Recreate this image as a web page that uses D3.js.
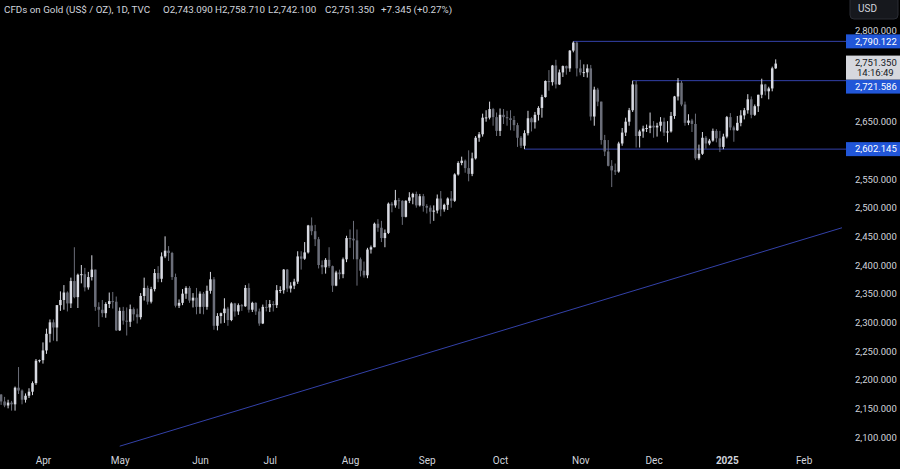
<!DOCTYPE html>
<html><head><meta charset="utf-8">
<script src="https://cdn.jsdelivr.net/npm/d3@7"></script>
<style>html,body{margin:0;padding:0;background:#000;} svg{display:block;}</style>
</head><body>
<svg id="chart" width="900" height="469"></svg>
<script>
const dates = [
"2024-03-14","2024-03-15","2024-03-18","2024-03-19","2024-03-20","2024-03-21","2024-03-22","2024-03-25","2024-03-26","2024-03-27","2024-03-28","2024-03-29",
"2024-04-01","2024-04-02","2024-04-03","2024-04-04","2024-04-05","2024-04-08","2024-04-09","2024-04-10","2024-04-11","2024-04-12","2024-04-15","2024-04-16","2024-04-17","2024-04-18","2024-04-19","2024-04-22","2024-04-23","2024-04-24","2024-04-25","2024-04-26","2024-04-29","2024-04-30",
"2024-05-01","2024-05-02","2024-05-03","2024-05-06","2024-05-07","2024-05-08","2024-05-09","2024-05-10","2024-05-13","2024-05-14","2024-05-15","2024-05-16","2024-05-17","2024-05-20","2024-05-21","2024-05-22","2024-05-23","2024-05-24","2024-05-27","2024-05-28","2024-05-29","2024-05-30","2024-05-31",
"2024-06-03","2024-06-04","2024-06-05","2024-06-06","2024-06-07","2024-06-10","2024-06-11","2024-06-12","2024-06-13","2024-06-14","2024-06-17","2024-06-18","2024-06-19","2024-06-20","2024-06-21","2024-06-24","2024-06-25","2024-06-26","2024-06-27","2024-06-28",
"2024-07-01","2024-07-02","2024-07-03","2024-07-04","2024-07-05","2024-07-08","2024-07-09","2024-07-10","2024-07-11","2024-07-12","2024-07-15","2024-07-16","2024-07-17","2024-07-18","2024-07-19","2024-07-22","2024-07-23","2024-07-24","2024-07-25","2024-07-26","2024-07-29","2024-07-30","2024-07-31",
"2024-08-01","2024-08-02","2024-08-05","2024-08-06","2024-08-07","2024-08-08","2024-08-09","2024-08-12","2024-08-13","2024-08-14","2024-08-15","2024-08-16","2024-08-19","2024-08-20","2024-08-21","2024-08-22","2024-08-23","2024-08-26","2024-08-27","2024-08-28","2024-08-29","2024-08-30",
"2024-09-02","2024-09-03","2024-09-04","2024-09-05","2024-09-06","2024-09-09","2024-09-10","2024-09-11","2024-09-12","2024-09-13","2024-09-16","2024-09-17","2024-09-18","2024-09-19","2024-09-20","2024-09-23","2024-09-24","2024-09-25","2024-09-26","2024-09-27","2024-09-30",
"2024-10-01","2024-10-02","2024-10-03","2024-10-04","2024-10-07","2024-10-08","2024-10-09","2024-10-10","2024-10-11","2024-10-14","2024-10-15","2024-10-16","2024-10-17","2024-10-18","2024-10-21","2024-10-22","2024-10-23","2024-10-24","2024-10-25","2024-10-28","2024-10-29","2024-10-30","2024-10-31",
"2024-11-01","2024-11-04","2024-11-05","2024-11-06","2024-11-07","2024-11-08","2024-11-11","2024-11-12","2024-11-13","2024-11-14","2024-11-15","2024-11-18","2024-11-19","2024-11-20","2024-11-21","2024-11-22","2024-11-25","2024-11-26","2024-11-27","2024-11-28","2024-11-29",
"2024-12-02","2024-12-03","2024-12-04","2024-12-05","2024-12-06","2024-12-09","2024-12-10","2024-12-11","2024-12-12","2024-12-13","2024-12-16","2024-12-17","2024-12-18","2024-12-19","2024-12-20","2024-12-23","2024-12-24","2024-12-26","2024-12-27","2024-12-30","2024-12-31",
"2025-01-02","2025-01-03","2025-01-06","2025-01-07","2025-01-08","2025-01-09","2025-01-10","2025-01-13","2025-01-14","2025-01-15","2025-01-16","2025-01-17","2025-01-20","2025-01-21","2025-01-22"
];
const open = [
2174,2162,2155,2160,2157,2186,2181,2165,2172,2179,2194,2233,
2234,2251,2280,2300,2291,2330,2339,2352,2333,2372,2344,2383,2384,2361,2379,2392,2327,2322,2316,2332,2337,2336,
2286,2320,2303,2301,2323,2314,2309,2346,2360,2336,2358,2386,2376,2415,2425,2421,2379,2329,2334,2350,2360,2338,2343,
2327,2350,2327,2355,2375,2294,2311,2316,2324,2304,2333,2319,2330,2328,2360,2322,2334,2319,2298,2327,
2326,2332,2330,2356,2356,2392,2359,2364,2371,2415,2411,2422,2469,2459,2445,2400,2396,2409,2398,2364,2387,2384,2410,
2447,2446,2443,2410,2390,2382,2427,2431,2472,2465,2447,2456,2507,2504,2513,2512,2484,2512,2518,2524,2504,2520,
2503,2500,2493,2495,2516,2497,2505,2516,2512,2558,2578,2582,2569,2559,2586,2622,2628,2657,2657,2672,2658,
2634,2662,2658,2656,2653,2644,2622,2608,2630,2656,2649,2662,2674,2693,2721,2719,2748,2715,2736,2747,2743,2774,2788,
2743,2736,2736,2743,2659,2706,2685,2618,2598,2573,2565,2563,2612,2631,2650,2670,2715,2625,2633,2638,2639,
2643,2640,2643,2650,2631,2633,2660,2694,2718,2680,2648,2652,2646,2586,2594,2622,2612,2617,2634,2621,2606,
2624,2658,2640,2635,2648,2661,2670,2689,2662,2677,2697,2715,2703,2708,2743.09
];
const high = [
2175,2170,2165,2163,2188,2222,2183,2176,2185,2197,2236,2235,
2265,2289,2305,2305,2330,2354,2365,2354,2378,2431,2385,2400,2395,2388,2417,2392,2335,2339,2335,2352,2353,2345,
2326,2327,2326,2331,2326,2324,2351,2378,2364,2362,2393,2398,2422,2450,2433,2423,2385,2340,2358,2363,2363,2351,2360,
2354,2353,2364,2388,2379,2316,2317,2342,2327,2335,2334,2333,2332,2365,2368,2336,2335,2324,2331,2339,
2339,2337,2365,2363,2393,2393,2370,2376,2424,2424,2440,2470,2483,2470,2449,2408,2412,2431,2399,2390,2392,2413,2451,
2462,2477,2462,2413,2406,2430,2434,2474,2480,2477,2462,2509,2510,2531,2517,2513,2513,2527,2526,2528,2524,2524,
2506,2504,2504,2523,2529,2507,2518,2529,2560,2581,2589,2584,2600,2596,2625,2632,2664,2670,2685,2674,2666,
2673,2672,2669,2670,2660,2648,2625,2635,2669,2658,2667,2677,2697,2722,2740,2749,2758,2741,2748,2748,2775,2790.122,2790,
2758,2750,2750,2749,2711,2709,2685,2627,2618,2583,2577,2615,2639,2657,2674,2721.586,2721,2636,2643,2645,2666,
2651,2648,2658,2657,2651,2667,2695,2726,2721,2685,2663,2655,2664,2610,2632,2625,2620,2638,2637,2634,2629,
2660,2665,2643,2660,2670,2674,2698,2694,2680,2697,2725,2716,2711,2746,2758.71
];
const low = [
2156,2152,2150,2146,2146,2175,2157,2160,2168,2173,2191,2230,
2228,2245,2265,2268,2267,2320,2322,2319,2325,2342,2325,2368,2354,2357,2373,2320,2292,2309,2308,2325,2324,2285,
2285,2296,2277,2292,2303,2298,2305,2338,2331,2333,2354,2370,2370,2412,2407,2374,2326,2325,2330,2341,2334,2326,2314,
2315,2314,2322,2350,2287,2286,2298,2299,2294,2302,2310,2313,2320,2327,2317,2318,2313,2294,2297,2319,
2318,2319,2325,2351,2350,2353,2352,2358,2367,2392,2409,2420,2452,2433,2394,2384,2385,2395,2353,2363,2375,2377,2405,
2430,2410,2364,2380,2378,2377,2420,2431,2458,2440,2431,2454,2492,2500,2498,2470,2483,2508,2506,2500,2502,2493,
2490,2472,2477,2490,2485,2493,2496,2500,2510,2556,2574,2561,2546,2555,2584,2615,2624,2650,2654,2643,2625,
2625,2646,2643,2635,2634,2606,2604,2602.145,2626,2633,2638,2652,2657,2692,2704,2713,2708,2714,2728,2732,2737,2771,2729,
2731,2728,2727,2652,2643,2677,2610,2590,2572,2536,2557,2561,2608,2625,2643,2667,2605,2605,2622,2632,2630,
2622,2624,2633,2625,2614,2631,2655,2687,2677,2643,2644,2632,2583,2583,2592,2603,2609,2615,2614,2597,2602,
2621,2635,2615,2634,2642,2654,2664,2656,2660,2667,2691,2696,2689,2703,2742.1
];
const close = [
2162,2155,2160,2157,2186,2181,2165,2172,2179,2194,2233,2234,
2251,2280,2300,2291,2330,2339,2352,2333,2372,2344,2383,2384,2361,2379,2392,2327,2322,2316,2332,2337,2336,2286,
2320,2303,2301,2323,2314,2309,2346,2360,2336,2358,2386,2376,2415,2425,2421,2379,2329,2334,2350,2360,2338,2343,2327,
2350,2327,2355,2375,2294,2311,2316,2324,2304,2333,2319,2330,2328,2360,2322,2334,2319,2298,2327,2326,
2332,2330,2356,2356.5,2392,2359,2364,2371,2415,2411,2422,2469,2459,2445,2400,2396,2409,2398,2364,2387,2384,2410,2447,
2446,2443,2410,2390,2382,2427,2431,2472,2465,2447,2456,2507,2504,2513,2512,2484,2512,2518,2524,2504,2520,2503,
2500,2493,2495,2516,2497,2505,2516,2512,2558,2578,2582,2569,2559,2586,2622,2628,2657,2657.5,2672,2658,2634,
2662,2658,2656,2653,2644,2622,2608,2630,2656,2649,2662,2674,2693,2721,2719,2748,2715,2736,2747,2743,2774,2788,2743,
2736,2736.5,2743,2659,2706,2685,2618,2598,2573,2565,2563,2612,2631,2650,2670,2715,2625,2633,2638,2639,2643,
2640,2643,2650,2631,2633,2660,2694,2718,2680,2648,2652,2646,2586,2594,2622,2612,2617,2634,2621,2606,2624,
2658,2640,2635,2648,2661,2670,2689,2662,2677,2697,2715,2703,2708,2743.09,2751.35
];
const futureDates = ["2025-01-23","2025-01-24","2025-01-27","2025-01-28","2025-01-29","2025-01-30","2025-01-31","2025-02-03","2025-02-04","2025-02-05","2025-02-06","2025-02-07","2025-02-10","2025-02-11","2025-02-12","2025-02-13","2025-02-14","2025-02-17","2025-02-18"];
const tickDates = ["2024-04-01","2024-05-01","2024-06-03","2024-07-01","2024-08-01","2024-09-02","2024-10-01","2024-11-01","2024-12-02","2025-01-02","2025-02-03"];
const tickLabels = ["Apr","May","Jun","Jul","Aug","Sep","Oct","Nov","Dec","2025","Feb"];
const priceTicks = [2100,2150,2200,2250,2300,2350,2400,2450,2500,2550,2600,2650,2700,2750,2800];
const levels = [2790.122, 2721.586, 2602.145];
const levelStart = ["2024-10-30","2024-11-22","2024-10-10"];
const trendDates = ["2024-05-01","2025-02-18"];
const trendPrices = [2084, 2465];
const lastPrice = 2751.35;
const countdown = "14:16:49";
const titleParts = ["CFDs on Gold (US$ / OZ), 1D, TVC","O2,743.090","H2,758.710","L2,742.100","C2,751.350","+7.345 (+0.27%)"];

const W = 900, H = 469, axisX = 846, plotBottom = 452;
const UP = "#d8dae2", DOWN = "#6b6e79", LINE = "#3341a8", BOX = "#2156d8", TXT = "#d1d4dc";
const FONT = "Roboto, 'Noto Sans', sans-serif";
const fmt = d3.format(",.3f");

const svg = d3.select("#chart");
svg.append("rect").attr("width", W).attr("height", H).attr("fill", "#000");
svg.append("defs").append("clipPath").attr("id", "clip")
  .append("rect").attr("x", 0).attr("y", 0).attr("width", axisX).attr("height", plotBottom);

const allDates = dates.concat(futureDates);
const x = d3.scalePoint().domain(allDates).range([1.1, 842]);
const y = d3.scaleLinear().domain([2100, 2800]).range([437, 35.7]);
const bw = x.step() * 0.72;

const plot = svg.append("g").attr("clip-path", "url(#clip)");

// trend line
plot.append("line")
  .attr("x1", x(trendDates[0])).attr("y1", y(trendPrices[0]))
  .attr("x2", x(trendDates[1])).attr("y2", y(trendPrices[1]))
  .attr("stroke", LINE).attr("stroke-width", 1);

// horizontal levels
plot.selectAll("line.level").data(levels).join("line").attr("class", "level")
  .attr("x1", (d, i) => x(levelStart[i])).attr("x2", axisX)
  .attr("y1", d => y(d)).attr("y2", d => y(d))
  .attr("stroke", LINE).attr("stroke-width", 1);

const candles = dates.map((d, i) => ({ d, o: open[i], h: high[i], l: low[i], c: close[i] }));
const col = c => c.c >= c.o ? UP : DOWN;
plot.selectAll("line.wick").data(candles).join("line").attr("class", "wick")
  .attr("x1", c => x(c.d)).attr("x2", c => x(c.d))
  .attr("y1", c => y(c.h)).attr("y2", c => y(c.l))
  .attr("stroke", col).attr("stroke-width", 1);
plot.selectAll("rect.body").data(candles).join("rect").attr("class", "body")
  .attr("x", c => x(c.d) - bw / 2).attr("width", bw)
  .attr("y", c => y(Math.max(c.o, c.c)))
  .attr("height", c => Math.max(1, Math.abs(y(c.o) - y(c.c))))
  .attr("fill", col);

// label boxes on the price scale (TradingView pushes overlapping labels apart)
const lpTop = y(lastPrice) - 8, lpBottom = y(lastPrice) + 16;
const labelY = levels.map(v => {
  let c = y(v);
  if (c + 7 > lpTop && c - 7 < lpBottom) c = lpBottom + 7;
  return c;
});
const covered = v => {
  const c = y(v);
  if (c > lpTop - 2 && c < lpBottom + 2) return true;
  return labelY.some(ly => v !== 2800 && Math.abs(ly - c) < 12);
};

// right axis
const ya = svg.append("g").attr("transform", `translate(${axisX},0)`)
  .call(d3.axisRight(y).tickValues(priceTicks.filter(v => !covered(v))).tickSize(0).tickPadding(9).tickFormat(fmt));
ya.select(".domain").remove();
ya.selectAll("text").attr("fill", TXT).style("font-family", FONT).style("font-size", "9.5px")
  .attr("dy", d => d === 2800 ? "-0.25em" : "0.32em");

// bottom axis
const xa = svg.append("g").attr("transform", `translate(0,${plotBottom})`)
  .call(d3.axisBottom(x).tickValues(tickDates).tickSize(0).tickPadding(5).tickFormat((d, i) => tickLabels[i]));
xa.select(".domain").remove();
xa.selectAll("text").attr("fill", TXT).style("font-family", FONT).style("font-size", "10px")
  .style("font-weight", (d, i) => tickLabels[i] === "2025" ? "bold" : "normal");

// level labels
const lab = svg.selectAll("g.lab").data(levels).join("g").attr("class", "lab")
  .attr("transform", (d, i) => `translate(${axisX},${labelY[i]})`);
lab.append("rect").attr("x", 0).attr("y", -7).attr("width", W - axisX).attr("height", 14).attr("fill", BOX);
lab.append("text").attr("x", 9).attr("y", 0).attr("dy", "0.35em").attr("fill", "#fff")
  .style("font-family", FONT).style("font-size", "9.5px").text(d => fmt(d));

// last price label
const lp = svg.append("g").attr("transform", `translate(${axisX},${y(lastPrice)})`);
lp.append("rect").attr("x", 0).attr("y", -8).attr("width", W - axisX).attr("height", 24).attr("fill", "#d6d8de");
lp.append("text").attr("x", 9).attr("y", -1).attr("dy", "0.35em").attr("fill", "#131722")
  .style("font-family", FONT).style("font-size", "9.5px").text(fmt(lastPrice));
lp.append("text").attr("x", 11).attr("y", 9.5).attr("dy", "0.35em").attr("fill", "#131722")
  .style("font-family", FONT).style("font-size", "9.5px").text(countdown);

// USD button
svg.append("rect").attr("x", 850).attr("y", -4).attr("width", 48).attr("height", 23).attr("rx", 4)
  .attr("fill", "#16181d").attr("stroke", "#2a2d35");
svg.append("text").attr("x", 858).attr("y", 12).attr("fill", TXT)
  .style("font-family", FONT).style("font-size", "10px").text("USD");

// title
const titleX = [4, 163, 215, 268, 325, 381];
svg.selectAll("text.title").data(titleParts).join("text").attr("class", "title")
  .attr("x", (d, i) => titleX[i]).attr("y", 13).attr("fill", TXT)
  .style("font-family", FONT).style("font-size", "9.8px").text(d => d);
</script>
</body></html>
